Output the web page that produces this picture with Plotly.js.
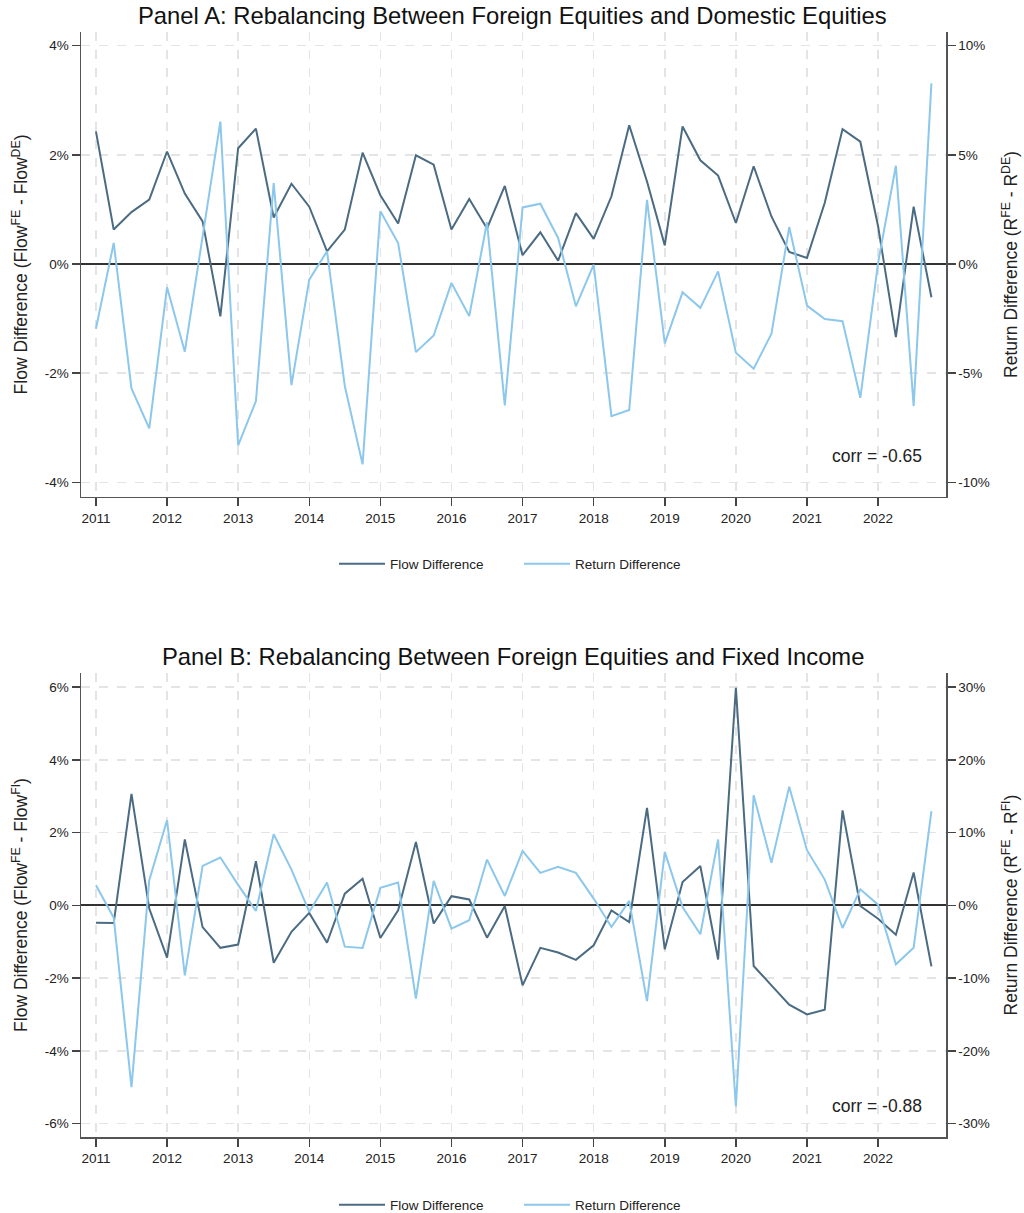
<!DOCTYPE html>
<html>
<head>
<meta charset="utf-8">
<script src="https://cdn.plot.ly/plotly-3.0.1.min.js"></script>
<style>
  html, body { margin: 0; padding: 0; background: #ffffff; overflow: hidden; }
  #chart { width: 1024px; height: 1213px; }
</style>
</head>
<body>
<div id="chart"></div>
<script>
// Quarterly observations, 2011Q1 – 2022Q4
const years = [2011, 2012, 2013, 2014, 2015, 2016, 2017, 2018, 2019, 2020, 2021, 2022];
const quarterOffsets = [0, 0.25, 0.5, 0.75];

// Panel A: foreign equities vs domestic equities (percent)
const flowA = [
  2.43, 0.63, 0.95, 1.18,
  2.06, 1.29, 0.78, -0.96,
  2.12, 2.48, 0.85, 1.47,
  1.05, 0.23, 0.63, 2.04,
  1.26, 0.74, 1.99, 1.82,
  0.63, 1.19, 0.65, 1.43,
  0.16, 0.58, 0.06, 0.93,
  0.46, 1.24, 2.54, 1.51,
  0.34, 2.52, 1.90, 1.62,
  0.75, 1.79, 0.87, 0.22,
  0.11, 1.12, 2.47, 2.24,
  0.69, -1.34, 1.05, -0.61
];
const retA = [
  -2.97, 0.96, -5.70, -7.53,
  -1.07, -4.02, 1.25, 6.52,
  -8.31, -6.28, 3.70, -5.55,
  -0.72, 0.58, -5.59, -9.18,
  2.41, 0.96, -4.04, -3.28,
  -0.87, -2.39, 1.91, -6.48,
  2.59, 2.76, 1.19, -1.94,
  -0.03, -6.97, -6.69, 2.94,
  -3.64, -1.30, -2.01, -0.34,
  -4.07, -4.80, -3.20, 1.69,
  -1.91, -2.52, -2.62, -6.13,
  0.05, 4.50, -6.51, 8.28
];

// Panel B: foreign equities vs fixed income (percent)
const flowB = [
  -0.48, -0.49, 3.06, -0.09,
  -1.44, 1.81, -0.60, -1.17,
  -1.08, 1.21, -1.58, -0.73,
  -0.21, -1.03, 0.32, 0.73,
  -0.90, -0.14, 1.74, -0.50,
  0.25, 0.16, -0.89, -0.02,
  -2.20, -1.17, -1.30, -1.50,
  -1.10, -0.14, -0.46, 2.68,
  -1.21, 0.64, 1.08, -1.49,
  5.98, -1.67, -2.20, -2.73,
  -3.00, -2.87, 2.61, -0.02,
  -0.37, -0.81, 0.90, -1.68
];
const retB = [
  2.75, -1.70, -25.0, 3.44,
  11.7, -9.63, 5.41, 6.56,
  2.80, -0.78, 9.77, 4.91,
  -0.92, 3.12, -5.69, -5.87,
  2.39, 3.12, -12.84, 3.35,
  -3.21, -2.06, 6.28, 1.28,
  7.48, 4.45, 5.28, 4.45,
  0.92, -2.98, 0.60, -13.17,
  7.34, -0.23, -3.99, 9.04,
  -27.66, 15.14, 5.83, 16.28,
  7.57, 3.53, -3.12, 2.20,
  0.09, -8.12, -5.83, 12.94
];

const yearTicks = years.slice();
const yearLabels = years.map(String);
const leftTicksA = [-4, -2, 0, 2, 4];
const rightTicksA = [-10, -5, 0, 5, 10];
const leftTicksB = [-6, -4, -2, 0, 2, 4, 6];
const rightTicksB = [-30, -20, -10, 0, 10, 20, 30];

const quarters = [];
years.forEach(y => quarterOffsets.forEach(q => quarters.push(y + q)));

const flowColor = '#4b6b82';
const returnColor = '#8cc7ec';
const FONT = 'Liberation Sans, Arial, sans-serif';

const traces = [
  { x: quarters, y: flowA, xaxis: 'x', yaxis: 'y', type: 'scatter', mode: 'lines',
    name: 'Flow Difference', line: { color: flowColor, width: 2 }, legend: 'legend' },
  { x: quarters, y: retA, xaxis: 'x', yaxis: 'y2', type: 'scatter', mode: 'lines',
    name: 'Return Difference', line: { color: returnColor, width: 2 }, legend: 'legend' },
  { x: quarters, y: flowB, xaxis: 'x2', yaxis: 'y3', type: 'scatter', mode: 'lines',
    name: 'Flow Difference', line: { color: flowColor, width: 2 }, legend: 'legend2' },
  { x: quarters, y: retB, xaxis: 'x2', yaxis: 'y4', type: 'scatter', mode: 'lines',
    name: 'Return Difference', line: { color: returnColor, width: 2 }, legend: 'legend2' }
];

const tickFont = { family: FONT, size: 13.5, color: '#222' };
const axisTitleFont = { family: FONT, size: 17.5, color: '#222' };

function xAxis(anchor) {
  return {
    anchor: anchor, domain: [0, 1], range: [2010.79, 2022.955],
    tickmode: 'array', tickvals: yearTicks, ticktext: yearLabels,
    ticks: 'outside', ticklen: 8, tickwidth: 1.5, tickcolor: '#444',
    showline: true, linecolor: '#555', linewidth: 1.5,
    showgrid: true, gridcolor: '#e4e4e4', griddash: 'dash', gridwidth: 1.5,
    zeroline: false, tickfont: tickFont, fixedrange: true, automargin: false
  };
}

function leftAxis(anchor, domain, range, ticks, titleText) {
  return {
    anchor: anchor, domain: domain, range: range,
    tickmode: 'array', tickvals: ticks, ticktext: ticks.map(v => v + '%'),
    ticks: 'outside', ticklen: 8, tickwidth: 1.5, tickcolor: '#444',
    showline: true, linecolor: '#555', linewidth: 1.5,
    showgrid: true, gridcolor: '#e4e4e4', griddash: 'dash', gridwidth: 1.5,
    zeroline: true, zerolinecolor: '#333', zerolinewidth: 2,
    tickfont: tickFont, fixedrange: true, automargin: false,
    title: { text: titleText, font: axisTitleFont, standoff: 12 }
  };
}

function rightAxis(anchor, overlay, range, ticks, titleText) {
  return {
    anchor: anchor, overlaying: overlay, side: 'right', range: range,
    tickmode: 'array', tickvals: ticks, ticktext: ticks.map(v => v + '%'),
    ticks: 'outside', ticklen: 8, tickwidth: 1.5, tickcolor: '#444',
    showline: true, linecolor: '#555', linewidth: 1.5,
    showgrid: false, zeroline: false,
    tickfont: tickFont, fixedrange: true, automargin: false,
    title: { text: titleText, font: axisTitleFont, standoff: 16 }
  };
}

const domA = [0.5792, 1];
const domB = [0, 0.4199];

const legendStyle = {
  orientation: 'h', xanchor: 'left', yanchor: 'middle',
  font: { family: FONT, size: 13.5, color: '#222' },
  itemwidth: 46, entrywidth: 124, entrywidthmode: 'pixels',
  bgcolor: 'rgba(0,0,0,0)', traceorder: 'normal'
};

const layout = {
  width: 1024, height: 1213,
  margin: { l: 81, r: 78, t: 32, b: 76, autoexpand: false },
  paper_bgcolor: '#ffffff', plot_bgcolor: '#ffffff',
  font: { family: FONT, color: '#222' },
  showlegend: true,
  xaxis: xAxis('y'),
  yaxis: leftAxis('x', domA, [-4.27, 4.25], leftTicksA,
    'Flow Difference (Flow<sup>FE</sup> - Flow<sup>DE</sup>)'),
  yaxis2: rightAxis('x', 'y', [-10.675, 10.625], rightTicksA,
    'Return Difference (R<sup>FE</sup> - R<sup>DE</sup>)'),
  xaxis2: xAxis('y3'),
  yaxis3: leftAxis('x2', domB, [-6.37, 6.385], leftTicksB,
    'Flow Difference (Flow<sup>FE</sup> - Flow<sup>FI</sup>)'),
  yaxis4: rightAxis('x2', 'y3', [-31.85, 31.925], rightTicksB,
    'Return Difference (R<sup>FE</sup> - R<sup>FI</sup>)'),
  legend: Object.assign({}, legendStyle, { x: 0.2925, y: 0.5186 }),
  legend2: Object.assign({}, legendStyle, { x: 0.2925, y: -0.0615 }),
  annotations: [
    { text: 'Panel A: Rebalancing Between Foreign Equities and Domestic Equities',
      xref: 'paper', yref: 'paper', x: 0.4994, y: 1.0145, xanchor: 'center', yanchor: 'middle',
      showarrow: false, font: { family: FONT, size: 23.8, color: '#111' } },
    { text: 'Panel B: Rebalancing Between Foreign Equities and Fixed Income',
      xref: 'paper', yref: 'paper', x: 0.4994, y: 0.4344, xanchor: 'center', yanchor: 'middle',
      showarrow: false, font: { family: FONT, size: 23.8, color: '#111' } },
    { text: 'corr = -0.65',
      xref: 'paper', yref: 'paper', x: 0.9746, y: 0.6163, xanchor: 'right', yanchor: 'middle',
      showarrow: false, font: { family: FONT, size: 17.5, color: '#222' } },
    { text: 'corr = -0.88',
      xref: 'paper', yref: 'paper', x: 0.9746, y: 0.028, xanchor: 'right', yanchor: 'middle',
      showarrow: false, font: { family: FONT, size: 17.5, color: '#222' } }
  ]
};

Plotly.newPlot('chart', traces, layout, { displayModeBar: false, staticPlot: true });
</script>
</body>
</html>
